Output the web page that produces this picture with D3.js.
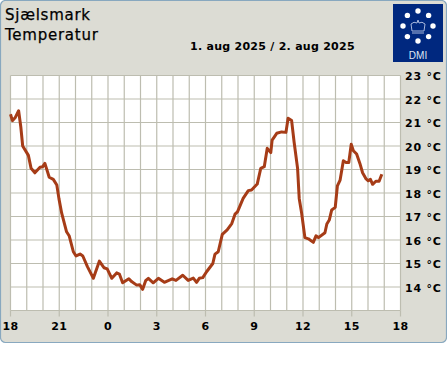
<!DOCTYPE html>
<html>
<head>
<meta charset="utf-8">
<script src="https://cdn.jsdelivr.net/npm/d3@7/dist/d3.min.js"></script>
<style>
	html, body { margin: 0; padding: 0; background: #fff; }
	text { font-family: "DejaVu Sans", sans-serif; fill: #000; }
</style>
</head>
<body>
<div id="chart"></div>
<script>
'use strict';

// minutes after 18:00 on 1 aug
const minutes = [0,7,17,30,38,45,66,76,90,109,119,127,143,158,171,179,189,207,217,232,242,257,267,284,306,328,345,357,374,392,402,414,437,447,466,477,488,499,509,527,546,568,597,611,636,656,675,687,697,710,724,747,755,767,782,800,817,829,838,859,878,890,911,924,937,948,961,966,983,1001,1017,1025,1038,1047,1060,1066,1075,1087,1100,1118,1128,1137,1161,1168,1177,1186,1199,1207,1217,1229,1239,1249,1258,1266,1278,1290,1300,1313,1321,1329,1337,1349,1361,1371];
const temps = [21.35,21.08,21.2,21.5,20.82,20.0,19.6,19.05,18.86,19.1,19.12,19.26,18.67,18.58,18.34,17.75,17.14,16.35,16.17,15.5,15.32,15.4,15.32,14.87,14.37,15.1,14.82,14.77,14.37,14.6,14.55,14.18,14.35,14.23,14.08,14.1,13.9,14.27,14.37,14.18,14.37,14.2,14.35,14.28,14.5,14.28,14.38,14.2,14.37,14.4,14.65,15.0,15.4,15.5,16.24,16.43,16.7,17.1,17.2,17.77,18.1,18.13,18.38,19.05,19.12,19.9,19.72,20.25,20.54,20.6,20.58,21.18,21.08,20.18,19.05,17.77,17.14,16.1,16.05,15.9,16.18,16.1,16.31,16.68,16.85,17.28,17.39,18.3,18.55,19.37,19.3,19.3,20.07,19.8,19.66,19.26,18.86,18.6,18.52,18.58,18.37,18.5,18.5,18.8];

const hourLabels = ['18','21','0','3','6','9','12','15','18'];
const tempTicks = [14,15,16,17,18,19,20,21,22,23];
const stationName = 'Sjælsmark';
const elementName = 'Temperatur';
const dateLabel = '1. aug 2025 / 2. aug 2025';

const width = 447;
const height = 370;
const panelColor = '#dcdcd4';
const gridColor = '#bdbdb0';
const lineColor = '#a63c17';

const svg = d3.select('#chart')
	.append('svg')
	.attr('width', width)
	.attr('height', height)
	.style('display', 'block');

// Panel
svg.append('rect')
	.attr('x', 0.5).attr('y', 0.5)
	.attr('width', 446).attr('height', 342)
	.attr('rx', 5)
	.attr('fill', panelColor)
	.attr('stroke', '#88a8bf')
	.attr('stroke-width', 1.2);

// Scales
const x = d3.scaleLinear().domain([0, 1440]).range([10.5, 400.5]);
const y = d3.scaleLinear().domain([13, 23]).range([310.5, 75.5]);

// Plot background
svg.append('rect')
	.attr('x', x(0)).attr('y', y(23))
	.attr('width', x(1440) - x(0)).attr('height', y(13) - y(23))
	.attr('fill', '#fff');

// Grid, one line per hour and per degree
svg.append('g')
	.selectAll('line')
	.data(d3.range(0, 1441, 60))
	.enter()
	.append('line')
		.attr('x1', d => x(d)).attr('x2', d => x(d))
		.attr('y1', y(13)).attr('y2', y(23))
		.attr('stroke', gridColor)
		.attr('stroke-width', 1.2);

svg.append('g')
	.selectAll('line')
	.data(d3.range(13, 24))
	.enter()
	.append('line')
		.attr('x1', x(0)).attr('x2', x(1440))
		.attr('y1', d => y(d)).attr('y2', d => y(d))
		.attr('stroke', gridColor)
		.attr('stroke-width', 1.2);

// Hour ticks and labels
const hourAxis = svg.append('g')
	.selectAll('g')
	.data(hourLabels)
	.enter()
	.append('g')
		.attr('transform', (d, i) => 'translate(' + x(i * 180) + ',0)');

hourAxis.append('line')
	.attr('y1', y(13)).attr('y2', y(13) + 6)
	.attr('stroke', gridColor)
	.attr('stroke-width', 1.2);

hourAxis.append('text')
	.attr('y', 330)
	.attr('text-anchor', 'middle')
	.style('font-size', '11px')
	.style('font-weight', 'bold')
	.style('letter-spacing', '0.3px')
	.text(d => d);

// Temperature labels
svg.append('g')
	.selectAll('text')
	.data(tempTicks)
	.enter()
	.append('text')
		.attr('x', 405)
		.attr('y', d => y(d) + 4.5)
		.style('font-size', '11px')
		.style('font-weight', 'bold')
		.style('letter-spacing', '0.75px')
		.text(d => d + ' °C');

// Temperature curve
const line = d3.line()
	.x((d, i) => x(minutes[i]))
	.y(d => y(d));

svg.append('path')
	.attr('d', line(temps))
	.attr('fill', 'none')
	.attr('stroke', lineColor)
	.attr('stroke-width', 3)
	.attr('stroke-linejoin', 'round');

// Titles
svg.append('text').attr('x', 5).attr('y', 20)
	.style('font-size', '15px')
	.style('letter-spacing', '0.75px')
	.style('stroke', '#000')
	.style('stroke-width', 0.25)
	.text(stationName);
svg.append('text').attr('x', 5).attr('y', 40)
	.style('font-size', '15px')
	.style('letter-spacing', '0.75px')
	.style('stroke', '#000')
	.style('stroke-width', 0.25)
	.text(elementName);
svg.append('text').attr('x', 190).attr('y', 50)
	.style('font-size', '11px')
	.style('font-weight', 'bold')
	.style('letter-spacing', '0.27px')
	.text(dateLabel);

// DMI logo
const logo = svg.append('g').attr('transform', 'translate(418,29)');
logo.append('rect')
	.attr('x', -25).attr('y', -25)
	.attr('width', 50).attr('height', 58)
	.attr('fill', '#00287f');
logo.selectAll('circle')
	.data(d3.range(0, 360, 45))
	.enter()
	.append('circle')
		.attr('cx', d => 15 * Math.cos(d * Math.PI / 180))
		.attr('cy', d => -3 + 15 * Math.sin(d * Math.PI / 180))
		.attr('r', 2.7)
		.attr('fill', '#fff');
logo.append('path')
	.attr('d', 'M-6,2 L-7,-5 Q-4,-8 -1,-6 L0,-9 L1,-6 Q4,-8 7,-5 L6,2 Z M-6,4 H6')
	.attr('fill', 'none')
	.attr('stroke', '#a9b8dc')
	.attr('stroke-width', 1);
logo.append('text')
	.attr('y', 30)
	.attr('text-anchor', 'middle')
	.style('font-family', '"Liberation Sans", sans-serif')
	.style('font-size', '10px')
	.style('fill', '#dfe5f3')
	.text('DMI');
</script>
</body>
</html>
